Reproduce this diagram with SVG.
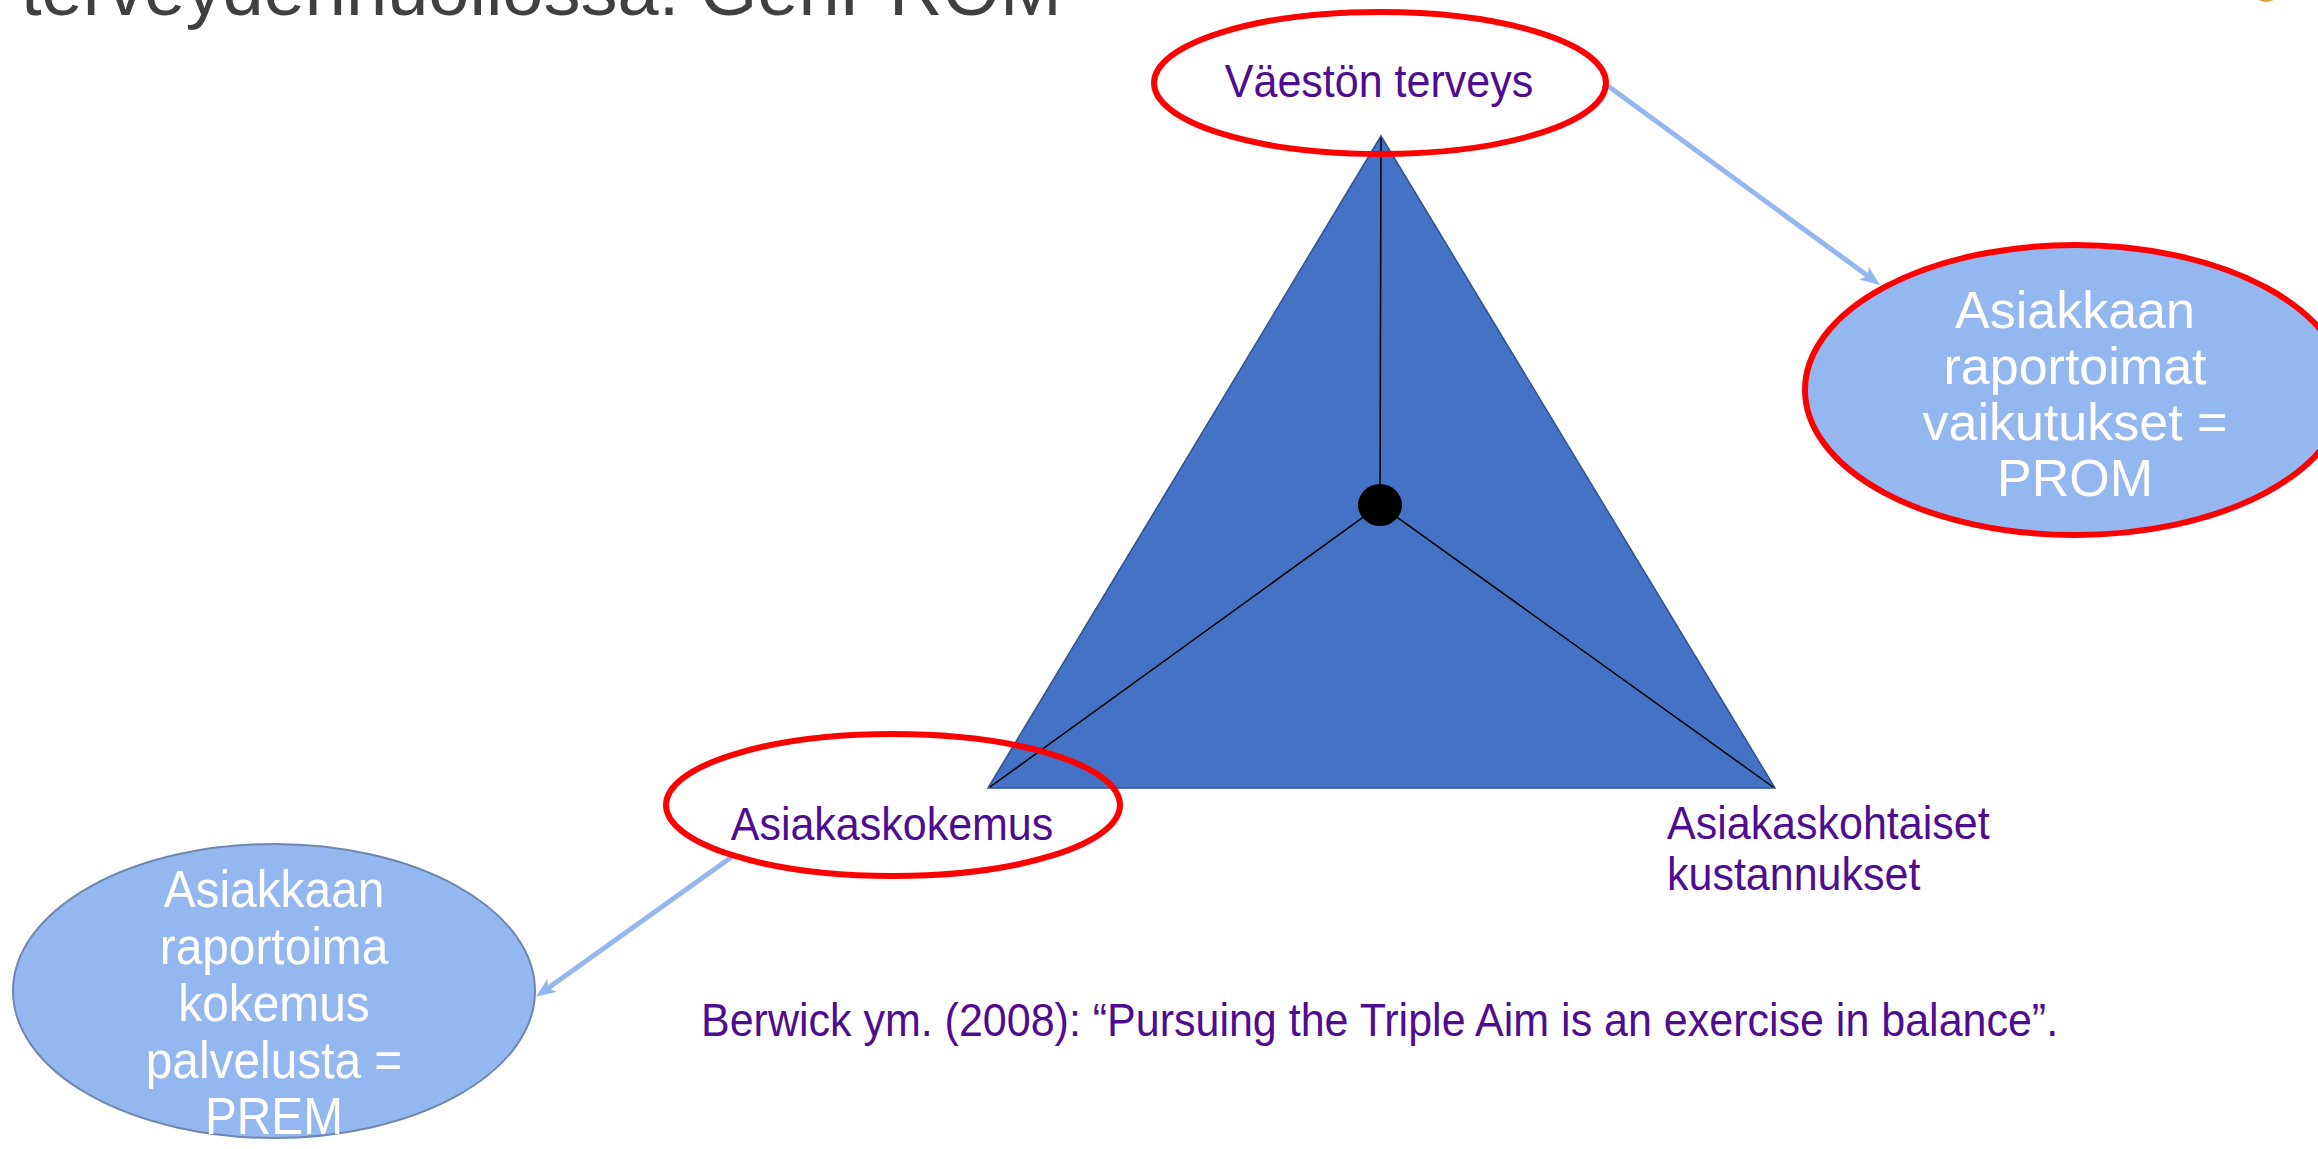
<svg xmlns="http://www.w3.org/2000/svg" width="2318" height="1149" viewBox="0 0 2318 1149">
<style>
.t{font-family:"Liberation Sans",Arial,sans-serif}
.purple{fill:#4E0D91;font-size:47px}
.white{fill:#FFFFFF;font-size:52px;text-anchor:middle}
.red{fill:none;stroke:#FF0000;stroke-width:6}
.conn{stroke:#95B7F0;stroke-width:5;fill:none}
.inner{stroke:#000;stroke-width:1.5}
</style>
<defs>
<marker id="ah" markerUnits="userSpaceOnUse" markerWidth="22" markerHeight="18" refX="10" refY="9" orient="auto">
<path d="M0,1 L20,9 L0,17 L5,9 Z" fill="#95B7F0"/>
</marker>
</defs>
<rect width="2318" height="1149" fill="#FFFFFF"/>
<text class="t" x="21" y="15" font-size="74" fill="#404040">terveydenhuollossa: GenPROM</text>
<ellipse cx="2266" cy="-4" rx="10" ry="6" fill="#D9A441"/>
<g id="triangle">
<polygon points="1381,136 988,788 1775,788" fill="#4472C4" stroke="#2F528F" stroke-width="1.5"/>
<line class="inner" x1="1381" y1="138" x2="1380" y2="505"/>
<line class="inner" x1="1380" y1="505" x2="990" y2="787"/>
<line class="inner" x1="1380" y1="505" x2="1773" y2="787"/>
<ellipse cx="1380" cy="505" rx="22" ry="21" fill="#000"/>
</g>
<g id="connectors">
<line class="conn" x1="1608" y1="86" x2="1872" y2="279" marker-end="url(#ah)"/>
<line class="conn" x1="733" y1="856" x2="544" y2="991" marker-end="url(#ah)"/>
</g>
<g id="node-vaeston-terveys">
<ellipse class="red" cx="1380" cy="83" rx="226" ry="71"/>
<text class="t purple" transform="translate(1379,97) scale(0.915,1)" text-anchor="middle">Väestön terveys</text>
</g>
<g id="node-asiakaskokemus">
<ellipse class="red" cx="893" cy="805" rx="227" ry="71"/>
<text class="t purple" transform="translate(892,840) scale(0.915,1)" text-anchor="middle">Asiakaskokemus</text>
</g>
<g id="node-kustannukset">
<text class="t purple" transform="translate(1667,839) scale(0.915,1)">Asiakaskohtaiset</text>
<text class="t purple" transform="translate(1667,890) scale(0.915,1)">kustannukset</text>
</g>
<g id="node-prom">
<ellipse cx="2075" cy="390" rx="270" ry="145" fill="#95B7F0" stroke="#FF0000" stroke-width="6"/>
<text class="t white" x="2075" y="328">Asiakkaan</text>
<text class="t white" x="2075" y="384">raportoimat</text>
<text class="t white" x="2075" y="440">vaikutukset =</text>
<text class="t white" x="2075" y="496">PROM</text>
</g>
<g id="node-prem">
<ellipse cx="274" cy="991" rx="261" ry="147" fill="#95B7F0" stroke="#6F86B0" stroke-width="2"/>
<g transform="translate(274,0) scale(0.92,1)">
<text class="t white" x="0" y="907">Asiakkaan</text>
<text class="t white" x="0" y="964">raportoima</text>
<text class="t white" x="0" y="1021">kokemus</text>
<text class="t white" x="0" y="1078">palvelusta =</text>
<text class="t white" x="0" y="1134">PREM</text>
</g>
</g>
<g id="citation">
<text class="t purple" transform="translate(701,1036) scale(0.915,1)">Berwick ym. (2008): “Pursuing the Triple Aim is an exercise in balance”.</text>
</g>
</svg>
